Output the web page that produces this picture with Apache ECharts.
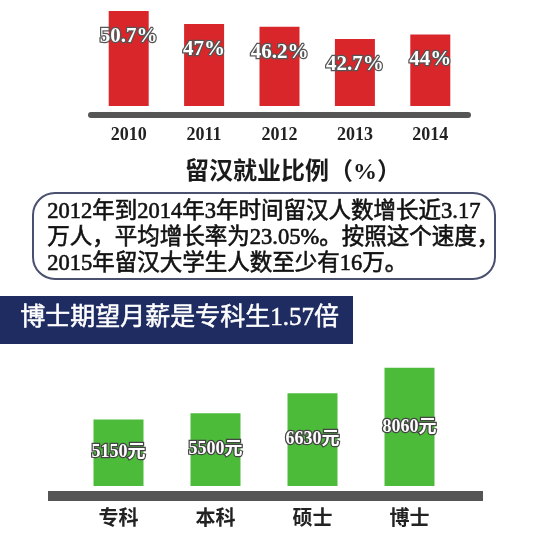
<!DOCTYPE html>
<html>
<head>
<meta charset="utf-8">
<script src="https://cdn.jsdelivr.net/npm/echarts@6/dist/echarts.min.js"></script>
<style>
  html, body { margin: 0; padding: 0; background: #fff; }
  #main { width: 550px; height: 545px; }
</style>
</head>
<body>
<div id="main"></div>
<script>
var years = ['2010', '2011', '2012', '2013', '2014'];
var employRate = [50.7, 47, 46.2, 42.7, 44];
var degrees = ['专科', '本科', '硕士', '博士'];
var salary = [5150, 5500, 6630, 8060];

var serif = '"Liberation Serif", "Noto Sans CJK SC", serif';

var chartDom = document.getElementById('main');
var myChart = echarts.init(chartDom);
var option;

option = {
  animation: false,
  grid: [
    { left: 91, width: 377, top: 10, height: 96 },
    { left: 70, width: 388, top: 360, height: 126 }
  ],
  xAxis: [
    {
      gridIndex: 0,
      type: 'category',
      data: years,
      offset: 9,
      axisTick: { show: false },
      axisLine: { lineStyle: { color: '#555', width: 6 } },
      axisLabel: { color: '#222', fontSize: 18, fontWeight: 'bold', fontFamily: serif, margin: 11 }
    },
    {
      gridIndex: 1,
      type: 'category',
      data: degrees,
      axisTick: { show: false },
      axisLine: { show: false },
      axisLabel: { color: '#222', fontSize: 20, fontWeight: 'bold', fontFamily: serif, margin: 24 }
    }
  ],
  yAxis: [
    { gridIndex: 0, type: 'value', min: 23.5, max: 51, show: false },
    { gridIndex: 1, type: 'value', min: 1400, max: 8500, show: false }
  ],
  series: [
    {
      type: 'bar',
      xAxisIndex: 0,
      yAxisIndex: 0,
      data: employRate,
      barWidth: 40,
      itemStyle: { color: '#d9262a' },
      label: {
        show: true,
        position: 'insideTop',
        distance: 15,
        formatter: '{c}%',
        color: '#fff',
        fontSize: 21,
        fontWeight: 'bold',
        fontFamily: serif,
        textBorderColor: '#555',
        textBorderWidth: 2.5
      }
    },
    {
      type: 'bar',
      xAxisIndex: 1,
      yAxisIndex: 1,
      data: salary,
      barWidth: 50,
      itemStyle: { color: '#4cbb3a' },
      label: {
        show: true,
        position: 'inside',
        formatter: '{c}元',
        color: '#fff',
        fontSize: 18,
        fontWeight: 'bold',
        fontFamily: serif,
        textBorderColor: '#444',
        textBorderWidth: 2.5
      }
    }
  ],
  graphic: [
    // 标题
    {
      type: 'text',
      left: 185, top: 161,
      style: { text: '留汉就业比例（%）', fontSize: 24, fontWeight: 'bold', fontFamily: serif, fill: '#1a1a1a' }
    },
    // 文字框
    {
      type: 'rect',
      shape: { x: 33, y: 193, width: 462, height: 86, r: 22 },
      style: { fill: '#fff', stroke: '#4a5170', lineWidth: 2 }
    },
    {
      type: 'text',
      left: 47, top: 199,
      style: {
        text: '2012年到2014年3年时间留汉人数增长近3.17\n万人，平均增长率为23.05%。按照这个速度，\n2015年留汉大学生人数至少有16万。',
        fontSize: 22.5, lineHeight: 26, fontFamily: serif, fill: '#111',
        stroke: '#111', lineWidth: 0.6
      }
    },
    // 横幅
    {
      type: 'rect',
      shape: { x: 0, y: 296, width: 353, height: 48 },
      style: { fill: '#1e2c62' }
    },
    {
      type: 'text',
      left: 20, top: 306,
      style: { text: '博士期望月薪是专科生1.57倍', fontSize: 25, fontFamily: serif, fill: '#fff', stroke: '#fff', lineWidth: 0.5 }
    },
    // 下方底座
    {
      type: 'rect',
      shape: { x: 48, y: 491, width: 435, height: 10 },
      style: { fill: '#555' }
    }
  ]
};

option && myChart.setOption(option);
</script>
</body>
</html>
